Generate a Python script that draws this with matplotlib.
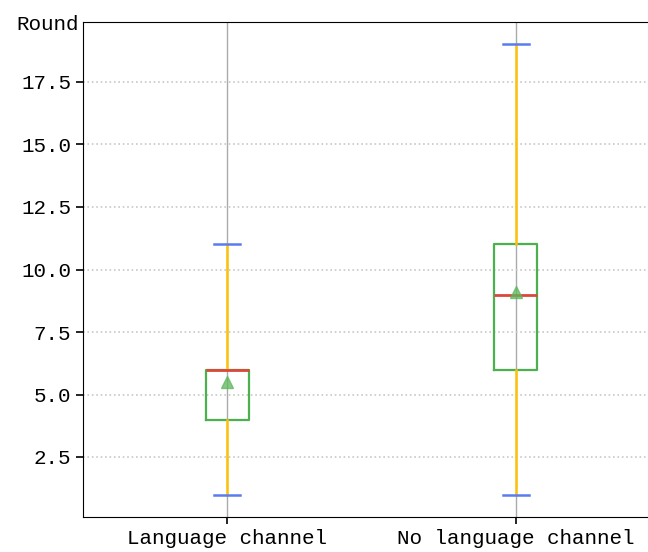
import matplotlib
matplotlib.use("Agg")
import matplotlib.pyplot as plt

# Box statistics
groups = ["Language channel", "No language channel"]
q1 = [4.0, 6.0]
q3 = [6.0, 11.0]
medians = [6.0, 9.0]
means = [5.5, 9.1]
whisker_low = [1.0, 1.0]
whisker_high = [11.0, 19.0]

plt.rcParams["font.family"] = ["Liberation Mono", "DejaVu Sans Mono"]
plt.rcParams["font.size"] = 15


def main():
    stats = []
    for i, name in enumerate(groups):
        stats.append({
            "label": name,
            "q1": q1[i],
            "q3": q3[i],
            "med": medians[i],
            "mean": means[i],
            "whislo": whisker_low[i],
            "whishi": whisker_high[i],
            "fliers": [],
        })

    fig = plt.figure(figsize=(6.48, 5.52), dpi=100)
    ax = fig.add_axes([83 / 648, 35 / 552, 577 / 648, 495 / 552])

    ax.bxp(
        stats,
        widths=0.15,
        capwidths=0.09,
        showmeans=True,
        boxprops=dict(color="#4caf50", linewidth=1.6),
        medianprops=dict(color="#d9483b", linewidth=2.0),
        whiskerprops=dict(color="#ffc107", linewidth=1.8),
        capprops=dict(color="#5b7cf0", linewidth=1.8),
        meanprops=dict(marker="^", markerfacecolor="#5cb85c", markeredgecolor="#5cb85c",
                       markersize=9, alpha=0.75),
    )

    ax.set_xlim(0.5, 2.5)
    ax.set_ylim(0.1, 19.9)
    ax.set_yticks([2.5, 5.0, 7.5, 10.0, 12.5, 15.0, 17.5])
    ax.set_axisbelow(True)
    ax.yaxis.grid(True, linestyle=":", color="#c8c8c8", linewidth=1.2)
    ax.xaxis.grid(True, linestyle="-", color="#aaaaaa", linewidth=1.0)
    ax.tick_params(direction="out", length=5, width=1.2)
    ax.spines["right"].set_visible(False)

    ax.set_ylabel("Round", rotation=0, ha="right", va="center")
    ax.yaxis.set_label_coords(-0.008, 0.995)

    fig.savefig("out.png", dpi=100)
    plt.close(fig)


if __name__ == "__main__":
    main()
